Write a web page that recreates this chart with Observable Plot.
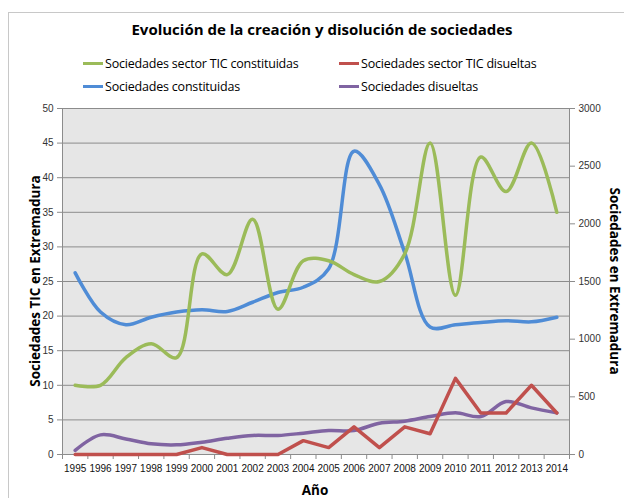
<!DOCTYPE html>
<html>
<head>
<meta charset="utf-8">
<script src="https://cdn.jsdelivr.net/npm/d3@7"></script>
<script src="https://cdn.jsdelivr.net/npm/@observablehq/plot@0.6"></script>
<style>
  html, body { margin: 0; padding: 0; background: #fff; }
  #wrap { position: relative; width: 624px; height: 498px; overflow: hidden; font-family: "Liberation Sans", Arial, sans-serif; }
  #border { position: absolute; left: 8px; top: 12px; width: 700px; height: 600px; border: 1.5px solid #c8c8c8; box-sizing: border-box; }
  #title { position: absolute; left: 10px; width: 624px; top: 19px; text-align: center; font-family: "Open Sans", sans-serif; font-weight: bold; font-size: 15px; color: #000; }
  .leg { position: absolute; font-family: "Open Sans", sans-serif; font-size: 12.5px; letter-spacing: -0.2px; color: #000; white-space: nowrap; }
  .leg span.sw { display: inline-block; width: 20px; height: 3.5px; vertical-align: middle; margin-right: 2px; position: relative; top: -1px; }
  #chart { position: absolute; left: 0; top: 100px; }
  .ytitle { position: absolute; font-family: "Open Sans", sans-serif; font-weight: bold; font-size: 13.5px; color: #000; white-space: nowrap; }
  #xtitle { position: absolute; top: 481px; left: 0; width: 630px; text-align: center; font-family: "Open Sans", sans-serif; font-weight: bold; font-size: 13.5px; }
</style>
</head>
<body>
<div id="wrap">
  <div id="border"></div>
  <div id="title">Evolución de la creación y disolución de sociedades</div>
  <div id="legend"></div>
  <div id="chart"></div>
  <div class="ytitle" id="ylt">Sociedades TIC en Extremadura</div>
  <div class="ytitle" id="yrt">Sociedades en Extremadura</div>
  <div id="xtitle">Año</div>
</div>
<script>
const years = [1995,1996,1997,1998,1999,2000,2001,2002,2003,2004,2005,2006,2007,2008,2009,2010,2011,2012,2013,2014];
// Left axis series
const ticConstituidas = [10,10,14,16,14,29,26,34,21,28,28,26,25,29,45,23,43,38,45,35];
const ticDisueltas    = [0,0,0,0,0,1,0,0,0,2,1,4,1,4,3,11,6,6,10,6];
// Right axis series
const constituidas    = [1575,1235,1125,1190,1235,1255,1240,1320,1405,1450,1610,2630,2340,1750,1105,1125,1145,1160,1150,1190];
const disueltas       = [35,170,135,93,84,107,141,165,165,185,208,208,271,289,329,361,329,459,404,361];

const seriesNames = ["Sociedades sector TIC constituidas","Sociedades sector TIC disueltas","Sociedades constituidas","Sociedades disueltas"];
const seriesColors = ["#9bbb59","#c0504d","#4f8cd6","#8064a2"];
const leftTicks = [0,5,10,15,20,25,30,35,40,45,50];
const rightTicks = [0,500,1000,1500,2000,2500,3000];
const ratio = 3000 / 50;

const green = years.map((y,i)=>({x:y, y:ticConstituidas[i]}));
const red = years.map((y,i)=>({x:y, y:ticDisueltas[i]}));
const blue = years.map((y,i)=>({x:y, y:constituidas[i]/ratio}));
const purple = years.map((y,i)=>({x:y, y:disueltas[i]/ratio}));
const bounds = d3.range(years.length + 1).map(i => years[0] - 0.5 + i);

const plot = Plot.plot({
  width: 624,
  height: 398,
  marginTop: 8,
  marginBottom: 44,
  marginLeft: 62,
  marginRight: 55,
  style: {fontFamily: "'Liberation Sans', Arial, sans-serif", fontSize: "10px", color: "#333", background: "transparent"},
  x: {domain: [bounds[0], bounds[bounds.length-1]]},
  y: {domain: [0, 50]},
  marks: [
    Plot.frame({fill: "#e6e6e6", stroke: "none"}),
    Plot.gridY(leftTicks.slice(1), {stroke: "#8c8c8c", strokeOpacity: 1, strokeWidth: 1}),
    Plot.ruleX([bounds[0]], {stroke: "#8c8c8c"}),
    Plot.ruleX([bounds[bounds.length-1]], {stroke: "#8c8c8c"}),
    Plot.ruleY([0], {stroke: "#8c8c8c"}),
    Plot.axisY(leftTicks, {anchor: "left", label: null, tickSize: 5, tickPadding: 4, stroke: "#8c8c8c", fill: "#333"}),
    Plot.axisY(rightTicks.map(d => d/ratio), {anchor: "right", label: null, tickSize: 5, tickPadding: 4, tickFormat: d => String(Math.round(d*ratio)), stroke: "#8c8c8c", fill: "#333"}),
    Plot.axisX(bounds, {anchor: "bottom", label: null, tickSize: 5, tickFormat: () => "", stroke: "#8c8c8c"}),
    Plot.axisX(years, {anchor: "bottom", label: null, tickSize: 0, tickPadding: 10, tickFormat: d => String(d), fill: "#111"}),
    Plot.line(purple, {x: "x", y: "y", stroke: seriesColors[3], strokeWidth: 3.5, curve: "catmull-rom"}),
    Plot.line(red, {x: "x", y: "y", stroke: seriesColors[1], strokeWidth: 3.5, curve: "linear"}),
    Plot.line(blue, {x: "x", y: "y", stroke: seriesColors[2], strokeWidth: 3.5, curve: "catmull-rom"}),
    Plot.line(green, {x: "x", y: "y", stroke: seriesColors[0], strokeWidth: 3.5, curve: "catmull-rom"})
  ]
});
document.getElementById("chart").appendChild(plot);

// Legend
const legPos = [[83,55],[339,55],[83,78],[339,78]];
const legend = document.getElementById("legend");
seriesNames.forEach((name, i) => {
  const d = document.createElement("div");
  d.className = "leg";
  d.style.left = legPos[i][0] + "px";
  d.style.top = legPos[i][1] + "px";
  d.innerHTML = `<span class="sw" style="background:${seriesColors[i]}"></span>${name}`;
  legend.appendChild(d);
});

// Axis titles rotated
const ylt = document.getElementById("ylt");
ylt.style.left = "35px"; ylt.style.top = "281px";
ylt.style.transform = "translate(-50%,-50%) rotate(-90deg)";
const yrt = document.getElementById("yrt");
yrt.style.left = "615px"; yrt.style.top = "281px";
yrt.style.transform = "translate(-50%,-50%) rotate(90deg)";
</script>
</body>
</html>
